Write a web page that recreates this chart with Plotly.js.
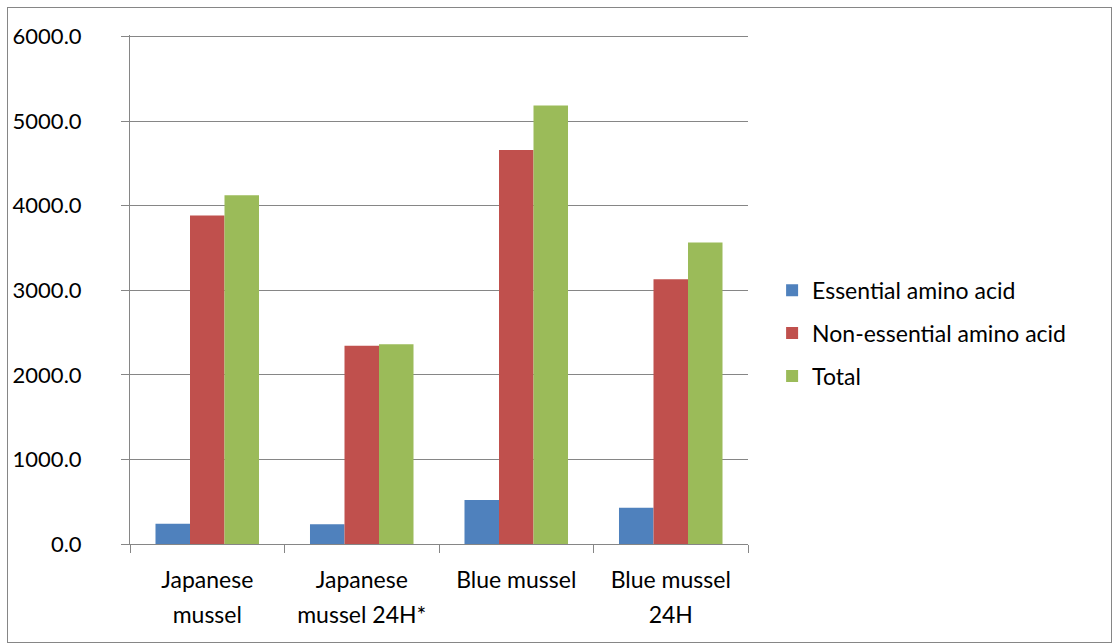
<!DOCTYPE html>
<html>
<head>
<meta charset="utf-8">
<script src="https://cdn.plot.ly/plotly-3.0.1.min.js"></script>
<style>
html,body{margin:0;padding:0;background:#fff;}
#frame{position:absolute;left:7px;top:7px;width:1103px;height:634px;border:1px solid #868686;}
#chart{position:absolute;left:0;top:0;width:1113px;height:644px;}
</style>
</head>
<body>
<div id="frame"></div>
<div id="chart"></div>
<script>
const categories = ["Japanese mussel", "Japanese mussel 24H*", "Blue mussel", "Blue mussel 24H"];
const labelLine1 = ["Japanese", "Japanese", "Blue mussel", "Blue mussel"];
const labelLine2 = ["mussel", "mussel 24H*", "", "24H"];
const essential = [240, 235, 519, 430];
const nonEssential = [3885, 2345, 4660, 3130];
const total = [4125, 2362, 5185, 3567];
const seriesNames = ["Essential amino acid", "Non-essential amino acid", "Total"];
const seriesColors = ["#4F81BD", "#C0504D", "#9BBB59"];
const yTicks = [0, 1000, 2000, 3000, 4000, 5000, 6000];

const fam = "Lato, 'Open Sans', sans-serif";
const font = {family: fam, size: 23, color: "#000"};
const series = [essential, nonEssential, total];
const traces = series.map((vals, i) => ({
  type: "bar",
  x: categories,
  y: vals,
  name: seriesNames[i],
  legendgroup: "g" + i,
  marker: {color: seriesColors[i]},
  hoverinfo: "y"
}));
// invisible helper trace so the second label row (xaxis2) is drawn
traces.push({
  type: "scatter", mode: "markers",
  x: categories, y: essential,
  xaxis: "x2", yaxis: "y",
  marker: {opacity: 0},
  showlegend: false, hoverinfo: "skip"
});

const layout = {
  width: 1113, height: 644,
  margin: {l: 130, r: 365, t: 35, b: 100},
  paper_bgcolor: "rgba(0,0,0,0)",
  plot_bgcolor: "rgba(0,0,0,0)",
  font: font,
  barmode: "group",
  bargap: 0.33,
  bargroupgap: 0,
  showlegend: true,
  legend: {
    x: 1.039, y: 0.414, xanchor: "left", yanchor: "middle",
    font: font, traceorder: "grouped", tracegroupgap: 10,
    itemwidth: 30, bgcolor: "rgba(0,0,0,0)"
  },
  xaxis: {
    type: "category",
    categoryarray: categories,
    tickvals: categories,
    ticktext: labelLine1,
    range: [-0.5, 3.5],
    showline: true, linecolor: "#868686", linewidth: 1,
    ticks: "outside", tickson: "boundaries", ticklen: 8, tickcolor: "#868686",
    ticklabelstandoff: 15,
    showgrid: false, tickfont: font
  },
  xaxis2: {
    type: "category",
    overlaying: "x",
    anchor: "y",
    side: "bottom",
    categoryarray: categories,
    tickvals: categories,
    ticktext: labelLine2,
    range: [-0.5, 3.5],
    showline: false, ticks: "", showgrid: false, zeroline: false,
    ticklabelstandoff: 55,
    tickfont: font
  },
  yaxis: {
    range: [0, 6020], tickvals: yTicks,
    ticktext: yTicks.map(v => v.toFixed(1)),
    showline: true, linecolor: "#868686", linewidth: 1,
    ticks: "outside", ticklen: 8, tickcolor: "#868686",
    ticklabelstandoff: 35,
    showgrid: true, gridcolor: "#868686", gridwidth: 1,
    zeroline: false, tickfont: {family: fam, size: 22, color: "#000"}
  }
};

Plotly.newPlot("chart", traces, layout, {displayModeBar: false, staticPlot: true});
</script>
</body>
</html>
